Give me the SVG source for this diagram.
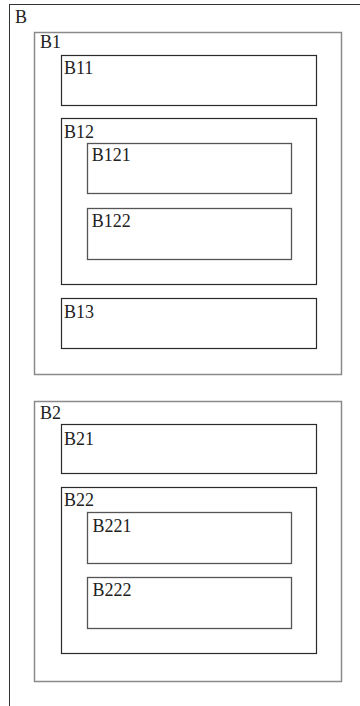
<svg xmlns="http://www.w3.org/2000/svg" width="360" height="706" viewBox="0 0 360 706">
<style>
rect{fill:none}
.l0{stroke:#333;stroke-width:1}
.l1{stroke:#8a8a8a;stroke-width:1.5}
.l2{stroke:#2a2a2a;stroke-width:1.2}
.l3{stroke:#555;stroke-width:1.3}
text{font-family:"Liberation Serif","Times New Roman",serif;font-size:18px;fill:#222}
</style>
<rect x="0" y="0" width="360" height="706" fill="#fff" style="fill:#fff"/>
<g id="B"><rect class="l0" x="9.5" y="4.5" width="400" height="800"/><text x="15" y="22.6">B</text></g>
<g id="B1"><rect class="l1" x="34.5" y="32.5" width="307" height="342"/><text x="40" y="47.6">B1</text></g>
<g id="B11"><rect class="l2" x="61.5" y="55.5" width="255" height="50"/><text x="64" y="73.6">B11</text></g>
<g id="B12"><rect class="l2" x="61.5" y="118.5" width="255" height="166"/><text x="64" y="137.6">B12</text></g>
<g id="B121"><rect class="l3" x="87.5" y="143.5" width="204" height="50"/><text x="91.7" y="161">B121</text></g>
<g id="B122"><rect class="l3" x="87.5" y="208.5" width="204" height="51"/><text x="91.7" y="227">B122</text></g>
<g id="B13"><rect class="l2" x="61.5" y="298.5" width="255" height="50"/><text x="64" y="317.6">B13</text></g>
<g id="B2"><rect class="l1" x="34.5" y="401.5" width="307" height="280"/><text x="40" y="418.6">B2</text></g>
<g id="B21"><rect class="l2" x="61.5" y="424.5" width="255" height="49"/><text x="64" y="444.6">B21</text></g>
<g id="B22"><rect class="l2" x="61.5" y="487.5" width="255" height="166"/><text x="64" y="506">B22</text></g>
<g id="B221"><rect class="l3" x="87.5" y="512.5" width="204" height="51"/><text x="92.5" y="532">B221</text></g>
<g id="B222"><rect class="l3" x="87.5" y="577.5" width="204" height="51"/><text x="92.5" y="596">B222</text></g>
<g id="connectors"/>
</svg>
